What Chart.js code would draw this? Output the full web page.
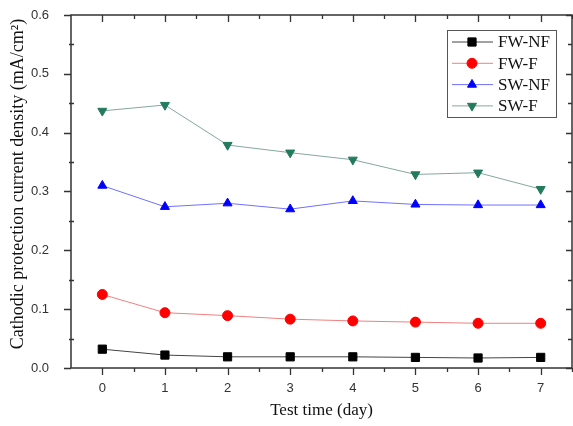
<!DOCTYPE html>
<html>
<head>
<meta charset="utf-8">
<script src="https://cdn.jsdelivr.net/npm/chart.js@4.4.0/dist/chart.umd.min.js"></script>
<style>
  html, body { margin: 0; padding: 0; background: #fff; overflow: hidden; }
  #wrap { width: 573px; height: 426px; position: relative; }
</style>
</head>
<body>
<div id="wrap"><canvas id="c" width="573" height="426"></canvas></div>
<script>
// ---- Data ----
const days = [0, 1, 2, 3, 4, 5, 6, 7];
const xTickLabels = ['0', '1', '2', '3', '4', '5', '6', '7'];
const yTickValues = [0.0, 0.1, 0.2, 0.3, 0.4, 0.5, 0.6];
const yTickLabels = ['0.0', '0.1', '0.2', '0.3', '0.4', '0.5', '0.6'];
const seriesNames = ['FW-NF', 'FW-F', 'SW-NF', 'SW-F'];
const fwNF = [0.032, 0.022, 0.019, 0.019, 0.019, 0.018, 0.017, 0.018];
const fwF  = [0.125, 0.094, 0.089, 0.083, 0.080, 0.078, 0.076, 0.076];
const swNF = [0.310, 0.274, 0.280, 0.270, 0.284, 0.278, 0.277, 0.277];
const swF  = [0.437, 0.447, 0.379, 0.366, 0.354, 0.329, 0.332, 0.304];
const yTitle = 'Cathodic protection current density (mA/cm\u00B2)';

const toPts = arr => days.map((d, i) => ({ x: d, y: arr[i] }));

const styles = [
  { point: '#000000', line: '#444444', style: 'rect', radius: 5.8, rotation: 0 },
  { point: '#ff0000', line: '#f08080', style: 'circle', radius: 5, rotation: 0 },
  { point: '#0000ff', line: '#7070ff', style: 'triangle', radius: 5.2, rotation: 0 },
  { point: '#237a5c', line: '#86a6a0', style: 'triangle', radius: 5.2, rotation: 180 }
];
const allSeries = [fwNF, fwF, swNF, swF];

const datasets = allSeries.map((s, i) => ({
  label: seriesNames[i],
  data: toPts(s),
  borderColor: styles[i].line,
  borderWidth: 1,
  backgroundColor: styles[i].point,
  pointBackgroundColor: styles[i].point,
  pointBorderColor: styles[i].point,
  pointBorderWidth: 1,
  pointStyle: styles[i].style,
  pointRadius: styles[i].radius,
  pointRotation: styles[i].rotation,
  tension: 0,
  fill: false
}));

const framePlugin = {
  id: 'framePlugin',
  afterDraw(chart) {
    const { ctx, chartArea: ca, scales: { x, y } } = chart;
    ctx.save();
    ctx.strokeStyle = '#333';
    ctx.lineWidth = 1.5;
    ctx.strokeRect(ca.left, ca.top, ca.right - ca.left, ca.bottom - ca.top);
    ctx.lineWidth = 1.3;
    ctx.beginPath();
    // x ticks (bottom outward, top inward)
    for (let v = 0; v <= 7.5; v += 0.5) {
      const px = Math.round(x.getPixelForValue(v)) + 0.5;
      const major = Number.isInteger(v);
      const len = major ? 7 : 4;
      ctx.moveTo(px, ca.bottom); ctx.lineTo(px, ca.bottom + len);
      ctx.moveTo(px, ca.top); ctx.lineTo(px, ca.top + len);
    }
    // y ticks (left outward major, crossing minor; right inward)
    for (let k = 0; k <= 12; k++) {
      const v = k * 0.05;
      const py = Math.round(y.getPixelForValue(v)) + 0.5;
      const major = k % 2 === 0;
      if (major) { ctx.moveTo(ca.left - 7, py); ctx.lineTo(ca.left, py); }
      else { ctx.moveTo(ca.left - 2, py); ctx.lineTo(ca.left + 3, py); }
      ctx.moveTo(ca.right, py); ctx.lineTo(ca.right - (major ? 6 : 4), py);
    }
    ctx.stroke();

    // y-axis title
    ctx.save();
    ctx.translate(18, 184);
    ctx.rotate(-Math.PI / 2);
    ctx.font = '18px "Liberation Serif", "Times New Roman", serif';
    ctx.fillStyle = '#111';
    ctx.textAlign = 'center';
    ctx.textBaseline = 'middle';
    ctx.fillText(yTitle, 0, 0);
    ctx.restore();

    // legend
    const bx = 447, by = 30, bw = 109, bh = 87;
    ctx.lineWidth = 1;
    ctx.strokeStyle = '#555';
    ctx.strokeRect(bx + 0.5, by + 0.5, bw, bh);
    ctx.font = '17px "Liberation Serif", "Times New Roman", serif';
    ctx.textBaseline = 'middle';
    ctx.textAlign = 'left';
    chart.data.datasets.forEach((ds, i) => {
      const ly = 42 + i * 21.3;
      ctx.strokeStyle = ds.borderColor;
      ctx.lineWidth = 1;
      ctx.beginPath();
      ctx.moveTo(452, ly); ctx.lineTo(493, ly);
      ctx.stroke();
      ctx.fillStyle = ds.pointBackgroundColor;
      ctx.strokeStyle = ds.pointBorderColor;
      Chart.helpers.drawPoint(ctx, {
        pointStyle: ds.pointStyle, radius: ds.pointRadius,
        rotation: ds.pointRotation, borderWidth: 1
      }, 472, ly);
      ctx.fillStyle = '#111';
      ctx.fillText(ds.label, 498, ly + 1);
    });
    ctx.restore();
  }
};

new Chart(document.getElementById('c'), {
  type: 'line',
  data: { datasets },
  options: {
    responsive: false,
    animation: false,
    layout: { autoPadding: false, padding: { top: 15, right: 1, left: 0, bottom: 0 } },
    plugins: { legend: { display: false }, tooltip: { enabled: false } },
    scales: {
      x: {
        type: 'linear',
        min: -0.5, max: 7.5,
        grid: { display: false },
        border: { display: false },
        afterBuildTicks: s => { s.ticks = days.map(v => ({ value: v })); },
        afterFit: s => { s.height = 58; s.paddingLeft = 0; s.paddingRight = 0; },
        ticks: {
          padding: 5,
          color: '#333',
          font: { family: '"Liberation Sans", Arial, sans-serif', size: 13 },
          callback: (v) => xTickLabels[days.indexOf(v)],
          maxRotation: 0, autoSkip: false
        },
        title: {
          display: true,
          text: 'Test time (day)',
          color: '#111',
          font: { family: '"Liberation Serif", "Times New Roman", serif', size: 17 },
          padding: { top: 0, bottom: 5 }
        }
      },
      y: {
        type: 'linear',
        min: 0, max: 0.6,
        grid: { display: false },
        border: { display: false },
        afterBuildTicks: s => { s.ticks = yTickValues.map(v => ({ value: v })); },
        afterFit: s => { s.width = 71; s.paddingTop = 0; s.paddingBottom = 0; },
        ticks: {
          padding: 14,
          color: '#333',
          font: { family: '"Liberation Sans", Arial, sans-serif', size: 13 },
          callback: (v) => yTickLabels[yTickValues.findIndex(t => Math.abs(t - v) < 1e-9)]
        },
        title: { display: false }
      }
    }
  },
  plugins: [framePlugin]
});
</script>
</body>
</html>
